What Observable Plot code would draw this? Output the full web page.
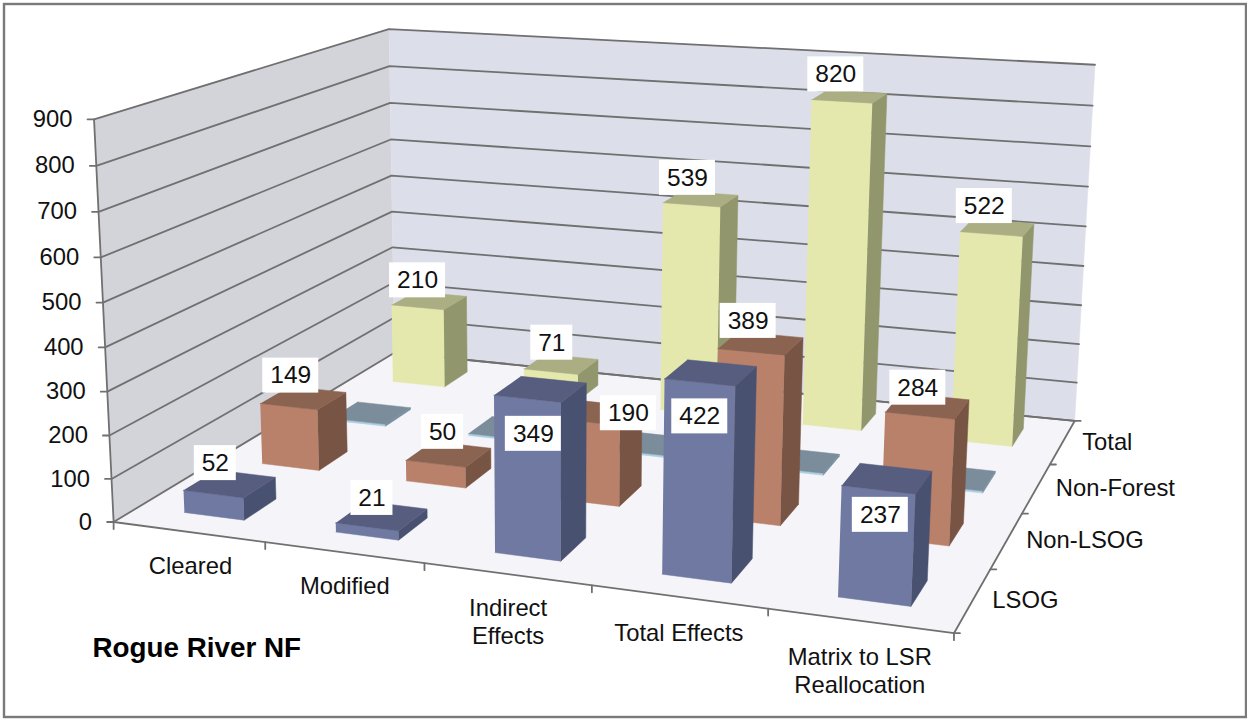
<!DOCTYPE html>
<html>
<head>
<meta charset="utf-8">
<script src="https://cdn.jsdelivr.net/npm/d3@7"></script>
<script src="https://cdn.jsdelivr.net/npm/@observablehq/plot@0.6"></script>
<style>
  html, body { margin: 0; padding: 0; background: #fff; }
  svg { display: block; }
</style>
</head>
<body>
<div id="chart"></div>
<script>
// Chart data
const categories = ["Cleared", "Modified", "Indirect\nEffects", "Total Effects", "Matrix to LSR\nReallocation"];
const seriesNames = ["LSOG", "Non-LSOG", "Non-Forest", "Total"];
const lsog = [52, 21, 349, 422, 237];
const nonLsog = [149, 50, 190, 389, 284];
const nonForest = [5, 5, 5, 5, 5];
const total = [210, 71, 539, 820, 522];
const valueTicks = [0, 100, 200, 300, 400, 500, 600, 700, 800, 900];
const chartTitle = "Rogue River NF";

// Styling per series: front, top and side faces; nonForest bars carry no labels
const faces = [
  {front: "#7079a2", top: "#565d7e", side: "#485270"},
  {front: "#b9806a", top: "#8b6351", side: "#785445"},
  {front: "#a9cfe2", top: "#7b8d9b", side: "#6f8ea0"},
  {front: "#e5e8ad", top: "#abae82", side: "#91966c"}
];
const seriesValues = [lsog, nonLsog, nonForest, total];
const labelled = [true, true, false, true];

const W = 1247, H = 719;
const font = "Liberation Sans, Arial, sans-serif";
const barWidth = 0.40, barDepth = 0.41, barShift = 0.008, maxValue = 900;

// Camera: a projective matrix solved from where the plot box corners land on the page.
// Box coordinates: u across categories, v into depth, w up the value axis (all 0..1).
const cameraAnchors = [
  [0, 0, 0, 115, 522], [1, 0, 0, 953, 633], [1, 1, 0, 1075, 420], [0, 1, 0, 392, 352],
  [0, 0, 1, 92, 118], [0, 1, 1, 390, 29], [1, 1, 1, 1094, 64.5]
];
function solveCamera(anchors) {
  const rows = [], rhs = [];
  for (const [u, v, w, x, y] of anchors) {
    rows.push([u, v, w, 1, 0, 0, 0, 0, -x * u, -x * v, -x * w]); rhs.push(x);
    rows.push([0, 0, 0, 0, u, v, w, 1, -y * u, -y * v, -y * w]); rhs.push(y);
  }
  const n = 11;
  const A = d3.range(n).map(i => d3.range(n + 1).map(j =>
    d3.sum(rows, (r, k) => r[i] * (j < n ? r[j] : rhs[k]))));
  for (let c = 0; c < n; c++) {
    let p = c;
    for (let r = c + 1; r < n; r++) if (Math.abs(A[r][c]) > Math.abs(A[p][c])) p = r;
    [A[c], A[p]] = [A[p], A[c]];
    for (let r = 0; r < n; r++) {
      if (r === c) continue;
      const f = A[r][c] / A[c][c];
      for (let j = c; j <= n; j++) A[r][j] -= f * A[c][j];
    }
  }
  return A.map((r, i) => r[n] / r[i]);
}
const cam = solveCamera(cameraAnchors);
function project(u, v, value) {
  const w = value / maxValue;
  const d = cam[8] * u + cam[9] * v + cam[10] * w + 1;
  return [
    (cam[0] * u + cam[1] * v + cam[2] * w + cam[3]) / d,
    (cam[4] * u + cam[5] * v + cam[6] * w + cam[7]) / d
  ];
}

// Polygons are stored as one row per vertex, grouped by id
const polygons = [];
let polyId = 0;
function addFace(points, fill) {
  const id = polyId++;
  for (const [u, v, val] of points) {
    const [x, y] = project(u, v, val);
    polygons.push({id, x, y, fill});
  }
}
addFace([[0, 0, 0], [0, 1, 0], [0, 1, maxValue], [0, 0, maxValue]], "#d3d4da");
addFace([[0, 1, 0], [1, 1, 0], [1, 1, maxValue], [0, 1, maxValue]], "#dcdfe9");
addFace([[0, 0, 0], [1, 0, 0], [1, 1, 0], [0, 1, 0]], "#f5f5f9");
const wallEnd = polyId;

// Rule segments: gridlines, box edges and tick stubs
const rules = [];
let ruleId = 0;
function addRule(pts) {
  const id = ruleId++;
  for (const [x, y] of pts) rules.push({id, x, y});
}
for (const t of valueTicks) {
  const a = project(0, 0, t), b = project(0, 1, t), c = project(1, 1, t);
  addRule([[a[0] - 6.5, a[1]], a, b, c]);
}
addRule([project(0, 0, 0), project(0, 0, maxValue)]);
addRule([project(0, 0, 0), project(1, 0, 0), project(1, 1, 0)]);
addRule([project(0, 1, 0), project(1, 1, 0)]);
for (let i = 0; i <= categories.length; i++) {
  const p = project(i / categories.length, 0, 0);
  addRule([p, [p[0], p[1] + 7]]);
}
for (let j = 0; j <= seriesNames.length; j++) {
  const p = project(1, j / seriesNames.length, 0);
  addRule([p, [p[0] + 6, p[1]]]);
}

// Bars, painted from the back row forward and from left to right
for (let j = seriesNames.length - 1; j >= 0; j--) {
  categories.forEach((_, i) => {
    const value = seriesValues[j][i];
    const uc = (i + 0.5 + barShift) / categories.length, vc = (j + 0.5) / seriesNames.length;
    const du = barWidth / categories.length / 2, dv = barDepth / seriesNames.length / 2;
    const u0 = uc - du, u1 = uc + du, v0 = vc - dv, v1 = vc + dv;
    const f = faces[j];
    addFace([[u0, v0, 0], [u1, v0, 0], [u1, v0, value], [u0, v0, value]], f.front);
    addFace([[u1, v0, 0], [u1, v1, 0], [u1, v1, value], [u1, v0, value]], f.side);
    addFace([[u0, v0, value], [u1, v0, value], [u1, v1, value], [u0, v1, value]], f.top);
  });
}

// Value labels sit on white boxes, set off from the front top edge of their bars
const labelNudge = {
  0: [[2, -31], [5, -29], [6, 35], [0, 34], [2, 25]],
  1: [[2, -31], [7, -32], [40, -9], [-3, -31], [-2, -28]],
  3: [[0, -27], [1, -29], [-4, -27], [-6, -27], [-7, -28]]
};
const labels = [];
seriesValues.forEach((vals, j) => {
  if (!labelled[j]) return;
  vals.forEach((value, i) => {
    const [x, y] = project((i + 0.5 + barShift) / categories.length,
      (j + 0.5 - barDepth / 2) / seriesNames.length, value);
    const n = labelNudge[j][i];
    labels.push({
      x: x + n[0], y: y + n[1], text: String(value),
      half: String(value).length === 3 ? 28 : 21
    });
  });
});

const valueLabels = valueTicks.map(t => {
  const [x, y] = project(0, 0, t);
  return {x: x - 21.5, y, text: String(t)};
});
const categoryNudge = [2, 1, 1, 0, 0];
const categoryLabels = categories.map((text, i) => {
  const [x, y] = project((i + 0.5) / categories.length, 0, 0);
  return {x: x + categoryNudge[i], y: y + 22 + (i > 2 ? 2 : 0), text};
});
const seriesLabels = seriesNames.map((text, j) => {
  const [x, y] = project(1, (j + 0.5) / seriesNames.length, 0);
  return {x: x + 19.5, y, text};
});

const walls = polygons.filter(d => d.id < wallEnd);
const bars = polygons.filter(d => d.id >= wallEnd);
const fontSize = 23.8;

const chart = Plot.plot({
  width: W,
  height: H,
  margin: 0,
  x: {domain: [0, W], range: [0, W], axis: null},
  y: {domain: [0, H], range: [0, H], axis: null},
  color: {type: "identity"},
  style: {background: "#fff", fontFamily: font},
  marks: [
    Plot.frame({stroke: "#7a7a7a", strokeWidth: 2.4, insetLeft: 3.5, insetTop: 3.5, insetRight: 1.5, insetBottom: 2.5}),
    Plot.line(walls, {x: "x", y: "y", z: "id", fill: "fill", stroke: "fill", strokeWidth: 0.5}),
    Plot.line(rules, {x: "x", y: "y", z: "id", stroke: "#707070", strokeWidth: 1.8}),
    Plot.line(bars, {x: "x", y: "y", z: "id", fill: "fill", stroke: "fill", strokeWidth: 0.5}),
    Plot.rect(labels, {
      x1: d => d.x - d.half, x2: d => d.x + d.half,
      y1: d => d.y - 17.5, y2: d => d.y + 17.5, fill: "#fff"
    }),
    Plot.text(labels, {x: "x", y: "y", text: "text", fontSize: 24.5, fill: "#111"}),
    Plot.text(valueLabels, {x: "x", y: "y", text: "text", fontSize, fill: "#111", textAnchor: "end"}),
    Plot.text(categoryLabels, {x: "x", y: "y", text: "text", fontSize, fill: "#111", lineAnchor: "top", lineHeight: 1.18}),
    Plot.text(seriesLabels, {x: "x", y: "y", text: "text", fontSize, fill: "#111", textAnchor: "start"}),
    Plot.text([chartTitle], {x: () => 92, y: () => 648, text: d => d, fontSize: 27.8, fontWeight: "bold", fill: "#000", textAnchor: "start"})
  ]
});
document.getElementById("chart").append(chart);
</script>
</body>
</html>
